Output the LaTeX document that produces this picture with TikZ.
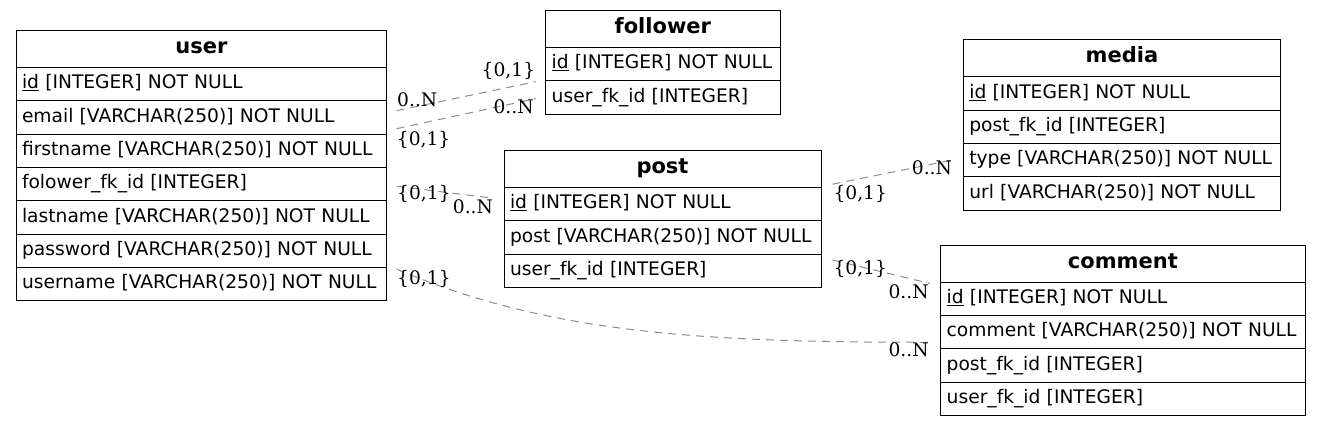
\documentclass[tikz,border=0pt]{standalone}
\usepackage{fontspec}
\usepackage{tikz}
\usetikzlibrary{positioning}
\setmainfont{DejaVu Sans}
\newfontfamily\lblfont{DejaVu Serif}
\definecolor{linkgray}{rgb}{0.55,0.55,0.55}

\tikzset{
  tbl/.style={draw, line width=1pt, outer sep=0pt, inner xsep=6pt, inner ysep=0pt, text height=13.5pt, text depth=4.5pt},
  thead/.style={tbl, text width=#1, align=center, minimum height=37pt, font=\fontsize{21}{24}\selectfont\bfseries},
  trow/.style={tbl, text width=#1, align=left, minimum height=33.3pt, font=\fontsize{18.67}{22}\selectfont},
  link/.style={draw=linkgray, line width=1pt, dash pattern=on 8pt off 6pt},
  card/.style={font=\fontsize{18.67}{22}\selectfont\lblfont, inner sep=0pt}
}

\begin{document}
\begin{tikzpicture}[x=1pt,y=-1pt]
\useasboundingbox (0,0) rectangle (1320,427);

% tables
\node[thead=358.7, anchor=north west] (user-0) at (16,30.7) {user};
\foreach \t [count=\i, remember=\i as \j (initially 0)] in {{\underline{id} [INTEGER] NOT NULL}, {email [VARCHAR(250)] NOT NULL}, {firstname [VARCHAR(250)] NOT NULL}, {folower\_fk\_id [INTEGER]}, {lastname [VARCHAR(250)] NOT NULL}, {password [VARCHAR(250)] NOT NULL}, {username [VARCHAR(250)] NOT NULL}}
  \node[trow=358.7, below=0pt of user-\j] (user-\i) {\t};

\node[thead=222.3, anchor=north west] (follower-0) at (545.7,10.7) {follower};
\foreach \t [count=\i, remember=\i as \j (initially 0)] in {{\underline{id} [INTEGER] NOT NULL}, {user\_fk\_id [INTEGER]}}
  \node[trow=222.3, below=0pt of follower-\j] (follower-\i) {\t};

\node[thead=305, anchor=north west] (post-0) at (504,150.7) {post};
\foreach \t [count=\i, remember=\i as \j (initially 0)] in {{\underline{id} [INTEGER] NOT NULL}, {post [VARCHAR(250)] NOT NULL}, {user\_fk\_id [INTEGER]}}
  \node[trow=305, below=0pt of post-\j] (post-\i) {\t};

\node[thead=305.4, anchor=north west] (media-0) at (963.3,40) {media};
\foreach \t [count=\i, remember=\i as \j (initially 0)] in {{\underline{id} [INTEGER] NOT NULL}, {post\_fk\_id [INTEGER]}, {type [VARCHAR(250)] NOT NULL}, {url [VARCHAR(250)] NOT NULL}}
  \node[trow=305.4, below=0pt of media-\j] (media-\i) {\t};

\node[thead=352.3, anchor=north west] (comment-0) at (940.7,245.3) {comment};
\foreach \t [count=\i, remember=\i as \j (initially 0)] in {{\underline{id} [INTEGER] NOT NULL}, {comment [VARCHAR(250)] NOT NULL}, {post\_fk\_id [INTEGER]}, {user\_fk\_id [INTEGER]}}
  \node[trow=352.3, below=0pt of comment-\j] (comment-\i) {\t};

% link ends
\coordinate (ua) at ([xshift=10pt, yshift=7pt]user-2.east);
\coordinate (ub) at ([xshift=10pt, yshift=-11pt]user-2.east);
\coordinate (uc) at ([xshift=10pt, yshift=-2pt]user-4.east);
\coordinate (ud) at ([xshift=10pt, yshift=15pt]user-7.east);
\coordinate (fa) at ([xshift=-10pt, yshift=16pt]follower-2.west);
\coordinate (fb) at ([xshift=-10pt, yshift=-1pt]follower-2.west);
\coordinate (pc) at ([xshift=-10pt, yshift=6pt]post-1.west);
\coordinate (pf) at ([xshift=11.5pt, yshift=-15pt]post-0.east);
\coordinate (pe) at ([xshift=11.5pt, yshift=11pt]post-3.east);
\coordinate (mf) at ([xshift=-12pt]media-3.west);
\coordinate (ce) at ([xshift=-10.7pt, yshift=15.5pt]comment-1.west);
\coordinate (cd) at ([xshift=-10pt, yshift=-10pt]comment-2.west);

% links
\draw[link] (ua) -- (fa);
\draw[link] (ub) -- (fb);
\draw[link] (uc) -- (pc);
\draw[link] (ud) .. controls (546.7,333) and (700,342.5) .. (cd);
\draw[link] (pe) -- (ce);
\draw[link] (pf) -- (mf);

% cardinalities
\node[card, anchor=base west] (ua-l) at (397,107) {0..N};
\node[card, anchor=base west] (fa-l) at (481.5,77) {\{0,1\}};
\node[card, anchor=base west] (ub-l) at (396.7,145.7) {\{0,1\}};
\node[card, anchor=base west] (fb-l) at (493.3,113.3) {0..N};
\node[card, anchor=base west] (uc-l) at (397,200) {\{0,1\}};
\node[card, anchor=base west] (pc-l) at (452.7,213.3) {0..N};
\node[card, anchor=base west] (ud-l) at (397,285) {\{0,1\}};
\node[card, anchor=base west] (cd-l) at (888.3,356.7) {0..N};
\node[card, anchor=base west] (pe-l) at (833.3,275) {\{0,1\}};
\node[card, anchor=base west] (ce-l) at (888.3,298.3) {0..N};
\node[card, anchor=base west] (pf-l) at (833.3,200) {\{0,1\}};
\node[card, anchor=base west] (mf-l) at (911.7,175) {0..N};
\end{tikzpicture}
\end{document}
